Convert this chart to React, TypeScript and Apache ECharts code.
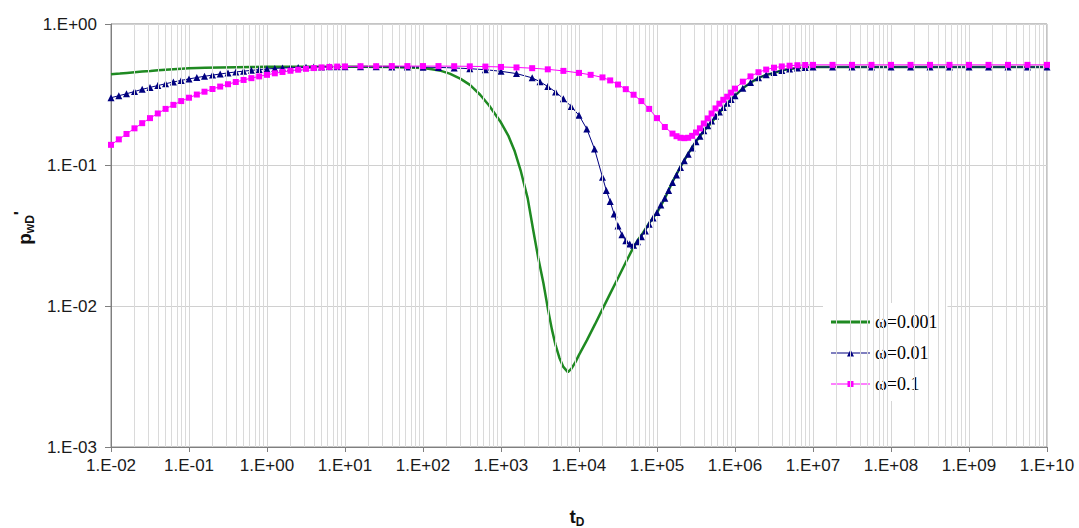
import React, { useEffect, useRef } from "react";
import * as echarts from "echarts";

// ---- data (t_D, p_wD') ----
const seriesNames = ["ω=0.001", "ω=0.01", "ω=0.1"];

const omega001: [number, number][] = [
  [0.01, 0.44], [0.013, 0.445], [0.016, 0.45], [0.02, 0.455], [0.025, 0.46], [0.032, 0.465],
  [0.04, 0.47], [0.05, 0.474], [0.063, 0.478], [0.08, 0.482], [0.1, 0.485], [0.16, 0.489],
  [0.25, 0.492], [0.4, 0.494], [0.63, 0.496], [1, 0.497], [2.5, 0.498], [6.3, 0.498],
  [16, 0.497], [40, 0.495], [63, 0.492], [100, 0.487], [130, 0.478], [170, 0.465],
  [220, 0.445], [300, 0.41], [400, 0.37], [540, 0.315], [700, 0.265], [1000, 0.2],
  [1250, 0.16], [1500, 0.125], [1800, 0.09], [2200, 0.058], [2600, 0.034], [3000, 0.022],
  [3500, 0.0145], [4000, 0.0095], [4500, 0.0068], [5000, 0.0053], [5600, 0.0043],
  [6300, 0.0037], [7200, 0.0034], [8000, 0.0036], [9000, 0.004], [1e4, 0.0045],
  [1.26e4, 0.0057], [1.6e4, 0.0074], [2e4, 0.0095], [2.5e4, 0.0122], [3.2e4, 0.016],
  [4e4, 0.0205], [4.8e4, 0.025], [5.6e4, 0.029], [6.6e4, 0.033], [8e4, 0.039],
  [1e5, 0.046], [1.26e5, 0.058], [1.6e5, 0.077], [2e5, 0.097], [2.5e5, 0.12],
  [3.2e5, 0.148], [4e5, 0.175], [5e5, 0.2], [6.3e5, 0.235], [8e5, 0.275], [1e6, 0.31],
  [1.26e6, 0.35], [1.6e6, 0.385], [2e6, 0.415], [2.5e6, 0.435], [3.2e6, 0.45],
  [4e6, 0.47], [5e6, 0.48], [6.3e6, 0.488], [8e6, 0.493], [1e7, 0.495], [1e8, 0.495],
  [1e9, 0.495], [1e10, 0.495],
];

const omega01: [number, number][] = [
  [0.01, 0.3], [0.0126, 0.31], [0.0158, 0.32], [0.02, 0.332], [0.0251, 0.344], [0.0316, 0.355],
  [0.0398, 0.366], [0.0501, 0.377], [0.0631, 0.388], [0.0794, 0.398], [0.1, 0.408],
  [0.126, 0.417], [0.158, 0.426], [0.2, 0.434], [0.251, 0.442], [0.316, 0.45], [0.398, 0.457],
  [0.501, 0.463], [0.631, 0.469], [0.794, 0.475], [1, 0.48], [1.26, 0.484], [1.58, 0.487],
  [2, 0.49], [2.51, 0.492], [3.16, 0.494], [3.98, 0.495], [5.01, 0.496], [6.31, 0.497],
  [7.94, 0.497], [10, 0.497], [15.8, 0.497], [25.1, 0.497], [39.8, 0.496], [63.1, 0.495],
  [100, 0.494], [158, 0.492], [251, 0.488], [398, 0.482], [631, 0.474], [1000, 0.462],
  [1580, 0.445], [2510, 0.415], [3160, 0.39], [3980, 0.36], [5010, 0.33], [6310, 0.295],
  [7940, 0.26], [1e4, 0.225], [1.26e4, 0.18], [1.58e4, 0.13], [2e4, 0.082], [2.24e4, 0.066],
  [2.51e4, 0.055], [2.82e4, 0.045], [3.16e4, 0.037], [3.55e4, 0.032], [3.98e4, 0.029],
  [4.47e4, 0.0275], [5.01e4, 0.027], [5.62e4, 0.0285], [6.31e4, 0.031], [7.08e4, 0.034],
  [7.94e4, 0.038], [8.91e4, 0.042], [1e5, 0.046], [1.12e5, 0.052], [1.26e5, 0.058],
  [1.41e5, 0.066], [1.58e5, 0.075], [1.78e5, 0.085], [2e5, 0.096], [2.24e5, 0.107],
  [2.51e5, 0.119], [2.82e5, 0.132], [3.16e5, 0.146], [3.55e5, 0.16], [3.98e5, 0.175],
  [4.47e5, 0.19], [5.01e5, 0.205], [5.62e5, 0.222], [6.31e5, 0.238], [7.08e5, 0.256],
  [7.94e5, 0.274], [8.91e5, 0.292], [1e6, 0.31], [1.26e6, 0.35], [1.58e6, 0.385],
  [2e6, 0.415], [2.51e6, 0.437], [3.16e6, 0.453], [3.98e6, 0.468], [5.01e6, 0.479],
  [6.31e6, 0.487], [7.94e6, 0.492], [1e7, 0.495], [1.78e7, 0.495], [3.16e7, 0.495],
  [5.62e7, 0.495], [1e8, 0.495], [1.78e8, 0.495], [3.16e8, 0.495], [5.62e8, 0.495],
  [1e9, 0.495], [1.78e9, 0.495], [3.16e9, 0.495], [5.62e9, 0.495], [1e10, 0.495],
];

const omega1: [number, number][] = [
  [0.01, 0.139], [0.0126, 0.152], [0.0158, 0.166], [0.02, 0.182], [0.0251, 0.198],
  [0.0316, 0.215], [0.0398, 0.232], [0.0501, 0.25], [0.0631, 0.267], [0.0794, 0.284],
  [0.1, 0.3], [0.126, 0.316], [0.158, 0.331], [0.2, 0.346], [0.251, 0.36], [0.316, 0.374],
  [0.398, 0.388], [0.501, 0.401], [0.631, 0.413], [0.794, 0.425], [1, 0.436], [1.26, 0.447],
  [1.58, 0.457], [2, 0.466], [2.51, 0.474], [3.16, 0.481], [3.98, 0.487], [5.01, 0.492],
  [6.31, 0.496], [7.94, 0.499], [10, 0.5], [15.8, 0.502], [25.1, 0.502], [39.8, 0.503],
  [63.1, 0.503], [100, 0.503], [158, 0.503], [251, 0.502], [398, 0.501], [631, 0.499],
  [1000, 0.496], [1580, 0.492], [2510, 0.486], [3980, 0.477], [6310, 0.465], [1e4, 0.45],
  [1.41e4, 0.436], [2e4, 0.418], [2.51e4, 0.398], [3.16e4, 0.372], [3.98e4, 0.345],
  [5.01e4, 0.315], [6.31e4, 0.284], [7.94e4, 0.25], [1e5, 0.215], [1.26e5, 0.186],
  [1.58e5, 0.167], [1.78e5, 0.16], [2e5, 0.156], [2.24e5, 0.155], [2.51e5, 0.156],
  [2.82e5, 0.161], [3.16e5, 0.17], [3.55e5, 0.182], [3.98e5, 0.197], [4.47e5, 0.214],
  [5.01e5, 0.232], [5.62e5, 0.252], [6.31e5, 0.272], [7.08e5, 0.29], [7.94e5, 0.305],
  [8.91e5, 0.326], [1e6, 0.348], [1.26e6, 0.39], [1.58e6, 0.425], [2e6, 0.455],
  [2.51e6, 0.475], [3.16e6, 0.49], [3.98e6, 0.5], [5.01e6, 0.506], [6.31e6, 0.51],
  [7.94e6, 0.512], [1e7, 0.513], [1.78e7, 0.513], [3.16e7, 0.513], [5.62e7, 0.513],
  [1e8, 0.513], [1.78e8, 0.513], [3.16e8, 0.513], [5.62e8, 0.513], [1e9, 0.513],
  [1.78e9, 0.513], [3.16e9, 0.513], [5.62e9, 0.513], [1e10, 0.513],
];

const xMin = 0.01;
const xMax = 1e10;
const yMin = 0.001;
const yMax = 1;

// minor vertical grid positions (2..9 within each decade)
const decadeExponents = [-2, -1, 0, 1, 2, 3, 4, 5, 6, 7, 8, 9];
const minorMultipliers = [2, 3, 4, 5, 6, 7, 8, 9];

const seriesColors = ["#1f8a22", "#000080", "#ff00ff"];

// legend icons (line sample + marker)
const legendIcons = [
  "path://M0,3.5L39,3.5L39,6.5L0,6.5Z",
  "path://M0,4.5L39,4.5L39,5.5L0,5.5ZM16,8.5L19.5,1.5L23,8.5Z",
  "path://M0,4.5L39,4.5L39,5.5L0,5.5ZM16.5,2L22.5,2L22.5,8L16.5,8Z",
];

function expLabel(v: number): string {
  const e = Math.round(Math.log10(v));
  const sign = e < 0 ? "-" : "+";
  const a = Math.abs(e);
  return "1.E" + sign + (a < 10 ? "0" + a : String(a));
}

export default function App() {
  const ref = useRef<HTMLDivElement>(null);

  useEffect(() => {
    if (!ref.current) return;
    const chart = echarts.init(ref.current, undefined, { renderer: "svg" });

    const minorLines: { xAxis: number }[] = [];
    decadeExponents.forEach((e) => {
      minorMultipliers.forEach((m) => {
        minorLines.push({ xAxis: Number((m * Math.pow(10, e)).toPrecision(6)) });
      });
    });

    const labelFont = "'Liberation Sans', Arial, sans-serif";

    chart.setOption({
      animation: false,
      backgroundColor: "#ffffff",
      grid: {
        left: 111,
        right: 32,
        top: 24,
        bottom: 81,
        show: true,
        borderColor: "#8a8a8a",
        borderWidth: 1,
        backgroundColor: "transparent",
      },
      legend: {
        data: seriesNames.map((n, i) => ({
          name: n,
          icon: legendIcons[i],
          itemStyle: { color: seriesColors[i] },
        })),
        orient: "vertical",
        left: 823,
        top: 303,
        itemWidth: 39,
        itemHeight: 10,
        itemGap: 13,
        padding: [10, 10, 8, 8],
        backgroundColor: "#ffffff",
        textStyle: {
          fontFamily: "'Liberation Serif', 'Times New Roman', serif",
          fontSize: 18,
          color: "#000000",
        },
      },
      xAxis: {
        type: "log",
        logBase: 10,
        min: xMin,
        max: xMax,
        interval: 1,
        splitNumber: 12,
        axisLine: { show: true, lineStyle: { color: "#7f7f7f", width: 1 } },
        axisTick: { show: true, length: 5, lineStyle: { color: "#7f7f7f" } },
        axisLabel: {
          hideOverlap: false,
          formatter: (v: number) => expLabel(v),
          fontFamily: labelFont,
          fontSize: 17,
          color: "#1a1a1a",
          margin: 10,
          showMinLabel: true,
          showMaxLabel: true,
        },
        splitLine: { show: true, lineStyle: { color: "#d6d6d6", width: 1 } },
      },
      yAxis: {
        type: "log",
        logBase: 10,
        min: yMin,
        max: yMax,
        interval: 1,
        splitNumber: 3,
        axisLine: { show: true, lineStyle: { color: "#7f7f7f", width: 1 } },
        axisTick: { show: true, length: 6, lineStyle: { color: "#7f7f7f" } },
        axisLabel: {
          formatter: (v: number) => expLabel(v),
          fontFamily: labelFont,
          fontSize: 17,
          color: "#1a1a1a",
          margin: 14,
        },
        splitLine: { show: true, lineStyle: { color: "#d0d0d0", width: 1 } },
      },
      graphic: [
        {
          type: "text",
          x: 24,
          y: 228,
          rotation: Math.PI / 2,
          style: {
            text: "{m|p}{s|wD}{q|'}",
            align: "center",
            verticalAlign: "middle",
            fill: "#111111",
            rich: {
              m: { fontFamily: labelFont, fontWeight: "bold", fontSize: 19, lineHeight: 24, verticalAlign: "middle", fill: "#111111" },
              s: { fontFamily: labelFont, fontWeight: "bold", fontSize: 12, lineHeight: 12, verticalAlign: "bottom", fill: "#111111" },
              q: { fontFamily: labelFont, fontWeight: "bold", fontSize: 17, lineHeight: 14, verticalAlign: "top", fill: "#111111" },
            },
          },
        },
        {
          type: "text",
          x: 577,
          y: 516,
          style: {
            text: "{m|t}{s|D}",
            align: "center",
            verticalAlign: "middle",
            fill: "#111111",
            rich: {
              m: { fontFamily: labelFont, fontWeight: "bold", fontSize: 19, lineHeight: 24, verticalAlign: "middle", fill: "#111111" },
              s: { fontFamily: labelFont, fontWeight: "bold", fontSize: 12, lineHeight: 12, verticalAlign: "bottom", fill: "#111111" },
            },
          },
        },
      ],
      series: [
        {
          name: "minorGrid",
          type: "line",
          data: [[1, 0.5]],
          symbol: "none",
          lineStyle: { opacity: 0 },
          silent: true,
          z: 1,
          markLine: {
            silent: true,
            symbol: ["none", "none"],
            label: { show: false },
            lineStyle: { color: "#dadada", width: 1, type: "solid" },
            data: minorLines,
          },
        },
        {
          name: seriesNames[0],
          type: "line",
          data: omega001,
          symbol: "none",
          smooth: false,
          lineStyle: { color: seriesColors[0], width: 2.5 },
          itemStyle: { color: seriesColors[0] },
          z: 3,
        },
        {
          name: seriesNames[1],
          type: "line",
          data: omega01,
          symbol: "triangle",
          symbolSize: 7,
          showAllSymbol: true,
          lineStyle: { color: seriesColors[1], width: 1 },
          itemStyle: { color: seriesColors[1] },
          z: 4,
        },
        {
          name: seriesNames[2],
          type: "line",
          data: omega1,
          symbol: "rect",
          symbolSize: 6,
          showAllSymbol: true,
          lineStyle: { color: seriesColors[2], width: 1 },
          itemStyle: { color: seriesColors[2] },
          z: 5,
        },
      ],
    });

    return () => {
      chart.dispose();
    };
  }, []);

  return (
    <div
      ref={ref}
      style={{ position: "absolute", left: 0, top: 0, width: 1079, height: 528, background: "#ffffff" }}
    />
  );
}
